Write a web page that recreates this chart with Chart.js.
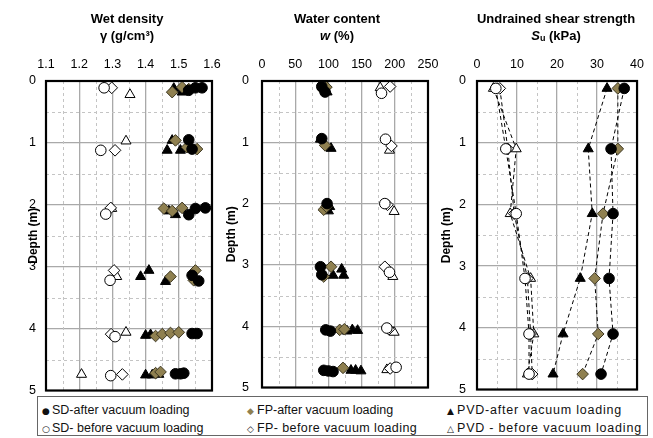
<!DOCTYPE html>
<html>
<head>
<meta charset="utf-8">
<script src="https://cdn.jsdelivr.net/npm/chart.js@4.4.1/dist/chart.umd.min.js"></script>
<style>
  body { margin: 0; background: #fff; font-family: "Liberation Sans", Arial, sans-serif; }
  #wrap { position: relative; width: 653px; height: 438px; overflow: hidden; }
  #wrap canvas { position: absolute; left: 0; top: 0; }
  #legend { position: absolute; left: 37px; top: 396px; width: 611px; height: 40px; border: 1px solid #666; box-sizing: border-box; font-size: 12.5px; color: #111; background: #fff; }
  #legend .it { position: absolute; white-space: nowrap; line-height: 14px; }
  #legend .mk { font-family: "DejaVu Sans", sans-serif; font-size: 9px; display: inline-block; width: 9px; margin-right: 1px; letter-spacing: 0; }
</style>
</head>
<body>
<div id="wrap">
  <canvas id="c1" width="653" height="408"></canvas>
  <canvas id="c2" width="653" height="408"></canvas>
  <canvas id="c3" width="653" height="408"></canvas>
  <div id="legend">
    <div class="it" style="left:4px;top:6px"><span class="mk">●</span>SD-after vacuum loading</div>
    <div class="it" style="left:209px;top:6px"><span class="mk" style="color:#8f8050">◆</span>FP-after vacuum loading</div>
    <div class="it" style="left:409px;top:6px;letter-spacing:0.8px"><span class="mk">▲</span>PVD-after vacuum loading</div>
    <div class="it" style="left:4px;top:24px"><span class="mk">○</span>SD- before vacuum loading</div>
    <div class="it" style="left:209px;top:24px;letter-spacing:0.4px"><span class="mk">◇</span>FP- before vacuum loading</div>
    <div class="it" style="left:409px;top:24px;letter-spacing:0.8px"><span class="mk">△</span>PVD - before vacuum loading</div>
  </div>
</div>
<script>
// ---- data: [value, depth (m)] ----
var densSdAfter = [[1.55,0.11],[1.57,0.11],[1.53,0.15],[1.53,0.95],[1.54,1.1],[1.53,2.16],[1.55,2.06],[1.58,2.05],[1.54,3.14],[1.56,3.23],[1.54,4.08],[1.555,4.08],[1.49,4.73],[1.505,4.73],[1.515,4.72]];
var densFpAfter = [[1.48,0.18],[1.51,0.1],[1.53,0.13],[1.49,0.96],[1.525,1.07],[1.555,1.1],[1.455,2.06],[1.48,2.1],[1.51,2.05],[1.475,3.16],[1.55,3.06],[1.545,3.22],[1.43,4.12],[1.45,4.09],[1.475,4.07],[1.5,4.06],[1.43,4.72],[1.445,4.7]];
var densPvdAfter = [[1.485,0.12],[1.51,0.18],[1.48,0.96],[1.465,1.12],[1.505,1.12],[1.47,2.1],[1.49,2.16],[1.385,3.16],[1.41,3.06],[1.46,3.24],[1.40,4.11],[1.415,4.1],[1.40,4.75],[1.42,4.75],[1.44,4.74]];
var densSdBefore = [[1.275,0.11],[1.265,1.12],[1.28,2.15],[1.293,3.22],[1.308,4.13],[1.295,4.76]];
var densFpBefore = [[1.298,0.11],[1.308,1.12],[1.295,2.05],[1.305,3.06],[1.296,4.09],[1.33,4.74]];
var densPvdBefore = [[1.353,0.22],[1.341,0.97],[1.298,2.06],[1.313,3.16],[1.341,4.06],[1.207,4.74]];

var wcSdAfter = [[90,0.09],[95,0.18],[90,0.94],[98,2.0],[88,3.03],[90,3.16],[96,4.06],[103,4.08],[93,4.72],[100,4.73],[107,4.74]];
var wcFpAfter = [[92,0.14],[97,0.1],[95,1.05],[93,2.1],[97,2.05],[93,3.19],[104,3.03],[117,4.06],[124,4.05],[122,4.68]];
var wcPvdAfter = [[98,0.18],[88,0.95],[104,1.1],[102,2.05],[100,2.12],[107,3.17],[120,3.07],[123,3.17],[128,4.08],[136,4.06],[144,4.07],[134,4.72],[141,4.72],[149,4.73]];
var wcSdBefore = [[180,0.2],[186,0.95],[185,2.0],[192,3.12],[188,4.03],[202,4.67]];
var wcFpBefore = [[193,0.09],[195,1.06],[189,2.02],[185,3.03],[191,4.05],[193,4.69]];
var wcPvdBefore = [[178,0.11],[192,1.13],[199,2.13],[197,3.19],[199,4.1],[188,4.71]];

var suDepth = [0.12, 1.1, 2.15, 3.2, 4.1, 4.75];
var suSdAfter = [36.8, 33.5, 34, 33, 34, 31];
var suFpAfter = [35.2, 35.2, 31.5, 29.4, 30.3, 26.4];
var suPvdAfter = [32.5, 27.8, 28.8, 25.8, 21.5, 19];
var suSdBefore = [4.7, 7.2, 9.8, 12, 13, 13];
var suFpBefore = [5.7, 7.7, 9.3, 12.6, 13.4, 13.8];
var suPvdBefore = [4.1, 9.8, 8.3, 13.4, 14.2, 12.6];

var legendNames = ['SD-after vacuum loading', 'FP-after vacuum loading', 'PVD-after vacuum loading',
  'SD- before vacuum loading', 'FP- before vacuum loading', 'PVD - before vacuum loading'];

const FONT = '"Liberation Sans", Arial, sans-serif';
const OLIVE = '#8f8050';

function pts(arr) { return arr.map(p => ({ x: p[0], y: p[1] })); }
function ptsSu(vals) { return vals.map((v, i) => ({ x: v, y: suDepth[i] })); }

// marker styles in legend order
var styles = [
  { pointStyle: 'circle', backgroundColor: '#000', borderColor: '#000', pointRadius: 5.3 },
  { pointStyle: 'rectRot', backgroundColor: OLIVE, borderColor: '#3b3520', pointRadius: 5.8 },
  { pointStyle: 'triangle', backgroundColor: '#000', borderColor: '#000', pointRadius: 5.8 },
  { pointStyle: 'circle', backgroundColor: '#fff', borderColor: '#000', pointRadius: 5.3 },
  { pointStyle: 'rectRot', backgroundColor: '#fff', borderColor: '#000', pointRadius: 5.8 },
  { pointStyle: 'triangle', backgroundColor: '#fff', borderColor: '#000', pointRadius: 5.8 }
];

function makeSets(series, lines) {
  return series.map((d, i) => Object.assign({
    label: legendNames[i],
    data: d,
    borderWidth: 1,
    pointHoverRadius: 5,
    showLine: !!lines,
    borderDash: [4, 3],
    pointBorderWidth: 1,
    fill: false
  }, styles[i], lines ? { borderColor: '#000' } : {}, { pointBorderColor: styles[i].borderColor, pointBackgroundColor: styles[i].backgroundColor }));
}

function drawParts(ctx, parts, cx, y) {
  let total = 0;
  const ws = parts.map(p => { ctx.font = p.f; const w = ctx.measureText(p.t).width; total += w; return w; });
  let x = cx - total / 2;
  ctx.textAlign = 'left';
  ctx.textBaseline = 'middle';
  parts.forEach((p, i) => { ctx.font = p.f; ctx.fillText(p.t, x, y + (p.dy || 0)); x += ws[i]; });
}

function decor(cfg) {
  return {
    id: 'decor' + cfg.id,
    beforeDatasetsDraw(chart) {
      const ctx = chart.ctx, a = chart.chartArea, sx = chart.scales.x, sy = chart.scales.y;
      ctx.save();
      ctx.strokeStyle = '#c4c4c4';
      ctx.lineWidth = 1;
      ctx.setLineDash([3, 3]);
      cfg.minorX.forEach(v => {
        const px = Math.round(sx.getPixelForValue(v)) + 0.5;
        ctx.beginPath(); ctx.moveTo(px, a.top); ctx.lineTo(px, a.bottom); ctx.stroke();
      });
      [0.5, 1.5, 2.5, 3.5, 4.5].forEach(v => {
        const py = Math.round(sy.getPixelForValue(v)) + 0.5;
        ctx.beginPath(); ctx.moveTo(a.left, py); ctx.lineTo(a.right, py); ctx.stroke();
      });
      ctx.restore();
    },
    afterDraw(chart) {
      const ctx = chart.ctx, a = chart.chartArea;
      ctx.save();
      ctx.strokeStyle = '#000';
      ctx.lineWidth = 2.2;
      ctx.strokeRect(a.left, a.top, a.right - a.left, a.bottom - a.top);
      ctx.fillStyle = '#000';
      drawParts(ctx, cfg.title1, cfg.titleX, 19);
      drawParts(ctx, cfg.title2, cfg.titleX, 36);
      ctx.translate(cfg.depthX, (a.top + a.bottom) / 2);
      ctx.rotate(-Math.PI / 2);
      ctx.font = 'bold 12px ' + FONT;
      ctx.textAlign = 'center';
      ctx.textBaseline = 'middle';
      ctx.fillText('Depth (m)', 0, 0);
      ctx.restore();
    }
  };
}

function makePanel(id, cfg) {
  const ctx = document.getElementById(id);
  return new Chart(ctx, {
    type: 'scatter',
    data: { datasets: cfg.sets },
    options: {
      responsive: false,
      animation: false,
      layout: { padding: { left: cfg.left - 40, right: 653 - cfg.right, top: 0, bottom: 7 } },
      plugins: { legend: { display: false }, tooltip: { enabled: false }, title: { display: false } },
      scales: {
        x: {
          type: 'linear', position: 'top', min: cfg.xmin, max: cfg.xmax,
          afterFit: s => { s.height = 81; },
          border: { display: false },
          grid: { color: '#a9a9a9', lineWidth: 1.3, drawTicks: false },
          ticks: { stepSize: cfg.step, padding: 9, color: '#000', font: { family: FONT, size: 12.5 },
            callback: v => cfg.fmt(v), maxRotation: 0 }
        },
        y: {
          type: 'linear', reverse: true, min: 0, max: 5,
          afterFit: s => { s.width = 40; },
          border: { display: false },
          grid: { color: '#a9a9a9', lineWidth: 1.3, drawTicks: false },
          ticks: { stepSize: 1, padding: cfg.yPad, color: '#000', font: { family: FONT, size: 12.5 } }
        }
      }
    },
    plugins: [decor(cfg)]
  });
}

const B = 'bold 13px ' + FONT;
const BI = 'italic bold 13px ' + FONT;

makePanel('c1', {
  id: 1, left: 46, right: 212, xmin: 1.1, xmax: 1.6, step: 0.1, yPad: 10,
  fmt: v => v.toFixed(1),
  minorX: [1.15, 1.25, 1.35, 1.45, 1.55],
  titleX: 127, depthX: 34,
  title1: [{ t: 'Wet density', f: B }],
  title2: [{ t: 'γ (g/cm³)', f: B }],
  sets: makeSets([densSdAfter, densFpAfter, densPvdAfter, densSdBefore, densFpBefore, densPvdBefore].map(pts), false)
});

makePanel('c2', {
  id: 2, left: 262, right: 428, xmin: 0, xmax: 250, step: 50, yPad: 13,
  fmt: v => String(v),
  minorX: [25, 75, 125, 175, 225],
  titleX: 337, depthX: 232,
  title1: [{ t: 'Water content', f: B }],
  title2: [{ t: 'w', f: BI }, { t: ' (%)', f: B }],
  sets: makeSets([wcSdAfter, wcFpAfter, wcPvdAfter, wcSdBefore, wcFpBefore, wcPvdBefore].map(pts), false)
});

makePanel('c3', {
  id: 3, left: 477, right: 640, xmin: 0, xmax: 40, step: 10, yPad: 11,
  fmt: v => String(v),
  minorX: [5, 15, 25, 35],
  titleX: 556, depthX: 447,
  title1: [{ t: 'Undrained shear strength', f: B }],
  title2: [{ t: 'S', f: BI }, { t: 'u', f: 'bold 9px ' + FONT, dy: 3 }, { t: ' (kPa)', f: B }],
  sets: makeSets([suSdAfter, suFpAfter, suPvdAfter, suSdBefore, suFpBefore, suPvdBefore].map(ptsSu), true)
});
</script>
</body>
</html>
